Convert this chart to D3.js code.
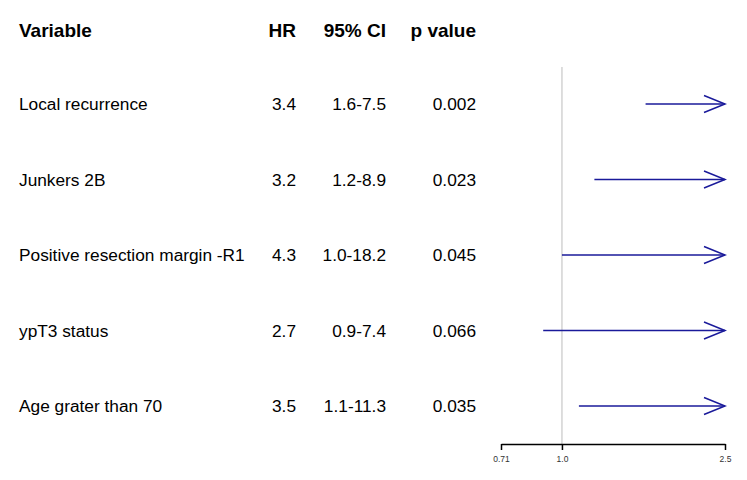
<!DOCTYPE html>
<html lang="en">
  <head>
    <meta charset="utf-8">
    <title>forest plot</title>
    <style>
      body { margin: 0; background: #fff; }
      text { font-family: "Liberation Sans", Arial, sans-serif; }
    </style>
  </head>
  <body>
    <script src="https://d3js.org/d3.v7.min.js"></script>
    <div id="chart"></div>
    <script>

    // table data
    var variables = ["Local recurrence", "Junkers 2B", "Positive resection margin -R1", "ypT3 status", "Age grater than 70"];
    var hr = [3.4, 3.2, 4.3, 2.7, 3.5];
    var lower = [1.6, 1.2, 1.0, 0.9, 1.1];
    var upper = [7.5, 8.9, 18.2, 7.4, 11.3];
    var pvals = ["0.002", "0.023", "0.045", "0.066", "0.035"];
    var ticks = [0.71, 1.0, 2.5];
    var tickLabels = ["0.71", "1.0", "2.5"];

    var width = 747, height = 480;

    var svg = d3.select("#chart")
      .append("svg")
        .attr("width", width)
        .attr("height", height);

    // log scale for hazard ratio, rows spaced evenly
    var x = d3.scaleLog()
      .domain([ticks[0], ticks[ticks.length - 1]])
      .range([501, 725]);

    var y = d3.scaleLinear()
      .domain([0, variables.length - 1])
      .range([104, 406]);

    var blue = "#1a1a9a";

    // column headers
    var headers = [
      {t: "Variable", x: 19, anchor: "start"},
      {t: "HR", x: 296, anchor: "end"},
      {t: "95% CI", x: 386, anchor: "end"},
      {t: "p value", x: 476, anchor: "end"}
    ];
    svg.selectAll("header")
      .data(headers)
      .enter()
      .append("text")
        .attr("x", function(d){ return d.x })
        .attr("y", 37)
        .attr("text-anchor", function(d){ return d.anchor })
        .attr("font-size", "19px")
        .attr("font-weight", "bold")
        .text(function(d){ return d.t });

    // table rows
    var rows = svg.selectAll("row")
      .data(variables)
      .enter()
      .append("g")
        .attr("transform", function(d, i){ return "translate(0," + (y(i) + 6) + ")" })
        .attr("font-size", "17.3px");

    rows.append("text").attr("x", 19).text(function(d){ return d });
    rows.append("text").attr("x", 296).attr("text-anchor", "end")
      .text(function(d, i){ return hr[i].toFixed(1) });
    rows.append("text").attr("x", 386).attr("text-anchor", "end")
      .text(function(d, i){ return lower[i].toFixed(1) + "-" + upper[i].toFixed(1) });
    rows.append("text").attr("x", 476).attr("text-anchor", "end")
      .text(function(d, i){ return pvals[i] });

    // reference line at 1
    svg.append("line")
      .attr("x1", x(1)).attr("x2", x(1))
      .attr("y1", 67).attr("y2", 444)
      .attr("stroke", "#d3d3d3")
      .attr("stroke-width", 1.5);

    // CI lines, clipped at axis end with an arrow
    var xmax = x.domain()[1];
    svg.selectAll("ci")
      .data(variables)
      .enter()
      .append("line")
        .attr("x1", function(d, i){ return x(Math.max(lower[i], x.domain()[0])) })
        .attr("x2", function(d, i){ return x(Math.min(upper[i], xmax)) })
        .attr("y1", function(d, i){ return y(i) })
        .attr("y2", function(d, i){ return y(i) })
        .attr("stroke", blue)
        .attr("stroke-width", 1.5);

    svg.selectAll("arrow")
      .data(variables.filter(function(d, i){ return upper[i] > xmax }))
      .enter()
      .append("path")
        .attr("d", function(d){
          var i = variables.indexOf(d), xe = x(xmax), ye = y(i);
          return "M" + (xe - 21) + "," + (ye - 8.5) + "L" + xe + "," + ye + "L" + (xe - 21) + "," + (ye + 8.5);
        })
        .attr("fill", "none")
        .attr("stroke", blue)
        .attr("stroke-width", 1.5);

    // x axis
    var axis = svg.append("g")
      .attr("transform", "translate(0,444)")
      .call(d3.axisBottom(x)
        .tickValues(ticks)
        .tickFormat(function(d, i){ return tickLabels[i] })
        .tickSize(6)
        .tickSizeOuter(0));
    axis.select(".domain").attr("stroke", "black").attr("stroke-width", 1.5);
    axis.selectAll(".tick line").attr("stroke", "black").attr("stroke-width", 1.5);
    axis.selectAll(".tick text")
      .attr("font-family", "Liberation Sans, Arial, sans-serif")
      .attr("font-size", "8.5px")
      .attr("fill", "#333")
      .attr("dy", "1.1em");

    </script>
  </body>
</html>
